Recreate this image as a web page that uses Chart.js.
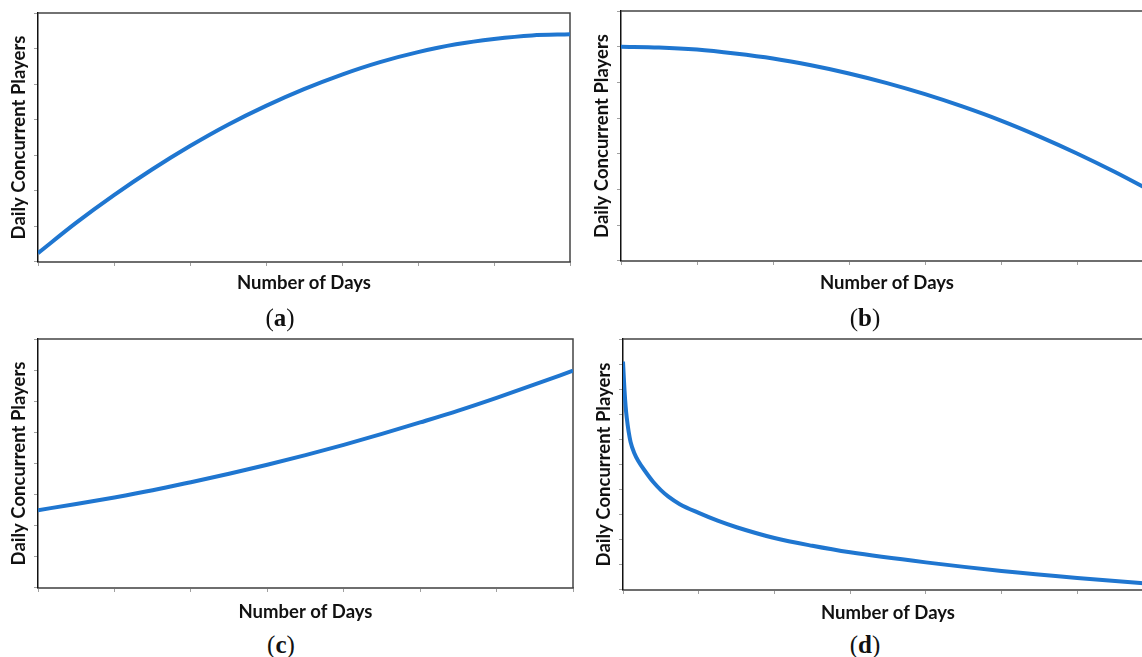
<!DOCTYPE html>
<html>
<head>
<meta charset="utf-8">
<script src="https://cdn.jsdelivr.net/npm/chart.js@4.4.1/dist/chart.umd.min.js"></script>
<style>
  html, body { margin: 0; padding: 0; background: #fff; }
  body { width: 1142px; height: 657px; position: relative; overflow: hidden; }
  canvas { position: absolute; }
  .cap {
    position: absolute; width: 80px; margin-left: -40px; text-align: center;
    font-family: "Liberation Serif", "DejaVu Serif", serif; font-size: 25px;
    color: #111; line-height: 24px;
  }
</style>
</head>
<body>
<canvas id="chart-a" width="580" height="296" style="left:0px;top:0px;"></canvas>
<canvas id="chart-b" width="580" height="298" style="left:583px;top:-2px;"></canvas>
<canvas id="chart-c" width="583" height="299" style="left:0px;top:326px;"></canvas>
<canvas id="chart-d" width="578" height="300" style="left:585px;top:326px;"></canvas>

<div class="cap" style="left:280px;top:306px;">(<b>a</b>)</div>
<div class="cap" style="left:865px;top:306px;">(<b>b</b>)</div>
<div class="cap" style="left:281px;top:633px;">(<b>c</b>)</div>
<div class="cap" style="left:865px;top:633px;">(<b>d</b>)</div>

<script>
// --- dados (x = dias, y = jogadores) ---
const diasMeio = [0, 0.5, 1, 1.5, 2, 2.5, 3, 3.5, 4, 4.5, 5, 5.5, 6, 6.5, 7];

// (a) crescimento que abranda
const jogadoresA = [0.25, 1.1, 1.88, 2.6, 3.26, 3.86, 4.39, 4.86, 5.27, 5.62, 5.9, 6.12, 6.27, 6.37, 6.4];
// (b) queda que acelera
const jogadoresB = [6.0, 5.98, 5.92, 5.81, 5.67, 5.48, 5.25, 4.98, 4.67, 4.32, 3.93, 3.49, 3.01, 2.49, 1.93];
// (c) crescimento que acelera
const jogadoresC = [2.5, 2.7, 2.91, 3.14, 3.4, 3.67, 3.96, 4.27, 4.6, 4.95, 5.32, 5.7, 6.11, 6.54, 6.98];
// (d) queda brusca no início
const diasD = [0, 0.01, 0.02, 0.035, 0.05, 0.075, 0.1, 0.15, 0.2, 0.3, 0.4, 0.5, 0.6, 0.75, 1, 1.25, 1.5, 2, 2.5, 3, 4, 5, 6, 7];
const jogadoresD = [9.1, 8.5, 7.95, 7.3, 6.85, 6.3, 5.9, 5.45, 5.15, 4.7, 4.3, 3.98, 3.72, 3.42, 3.07, 2.76, 2.5, 2.07, 1.76, 1.5, 1.1, 0.76, 0.48, 0.24];

const eixoYMax = { a: 7, b: 7, c: 8, d: 10 };
const tituloX = "Number of Days";
const tituloY = "Daily Concurrent Players";

const corLinha = "#1f76d0";
const fonteTitulo = { family: "Lato, 'Open Sans', sans-serif", size: 18.5, weight: "bold", lineHeight: 0.973 };

// moldura superior/direita da área do gráfico (estilo Excel)
const moldura = {
  id: "moldura",
  beforeDatasetsDraw(chart) {
    const { ctx, chartArea: a } = chart;
    ctx.save();
    ctx.strokeStyle = "#444";
    ctx.lineWidth = 1.5;
    ctx.beginPath();
    ctx.moveTo(a.left, a.top);
    ctx.lineTo(a.right, a.top);
    ctx.lineTo(a.right, a.bottom);
    ctx.stroke();
    ctx.restore();
  },
};

function criarPainel(id, dias, valores, yMax, padTituloX) {
  const pontos = dias.map((d, i) => ({ x: d, y: valores[i] }));
  new Chart(document.getElementById(id), {
    type: "line",
    data: {
      datasets: [
        {
          data: pontos,
          borderColor: corLinha,
          borderWidth: 4,
          pointRadius: 0,
          cubicInterpolationMode: "monotone",
          fill: false,
        },
      ],
    },
    options: {
      responsive: false,
      animation: false,
      layout: { padding: { left: 10, top: 13, right: 10, bottom: 4 } },
      plugins: { legend: { display: false }, tooltip: { enabled: false } },
      scales: {
        x: {
          type: "linear",
          min: 0,
          max: 7,
          ticks: { display: false, stepSize: 1 },
          grid: { drawOnChartArea: false, drawTicks: true, tickLength: 4, color: "#a0a0a0" },
          border: { color: "#6e6e6e", width: 2 },
          title: { display: true, text: tituloX, color: "#111", font: fonteTitulo, padding: { top: padTituloX, bottom: 0 } },
        },
        y: {
          min: 0,
          max: yMax,
          ticks: { display: false, stepSize: 1 },
          grid: { drawOnChartArea: false, drawTicks: true, tickLength: 4, color: "#a0a0a0" },
          border: { color: "#111", width: 1.5 },
          title: { display: true, text: tituloY, color: "#111", font: fonteTitulo, padding: { top: 0, bottom: 6 } },
        },
      },
    },
    plugins: [moldura],
  });
}

criarPainel("chart-a", diasMeio, jogadoresA, eixoYMax.a, 8);
criarPainel("chart-b", diasMeio, jogadoresB, eixoYMax.b, 9);
criarPainel("chart-c", diasMeio, jogadoresC, eixoYMax.c, 11);
criarPainel("chart-d", diasD, jogadoresD, eixoYMax.d, 10);
</script>
</body>
</html>
